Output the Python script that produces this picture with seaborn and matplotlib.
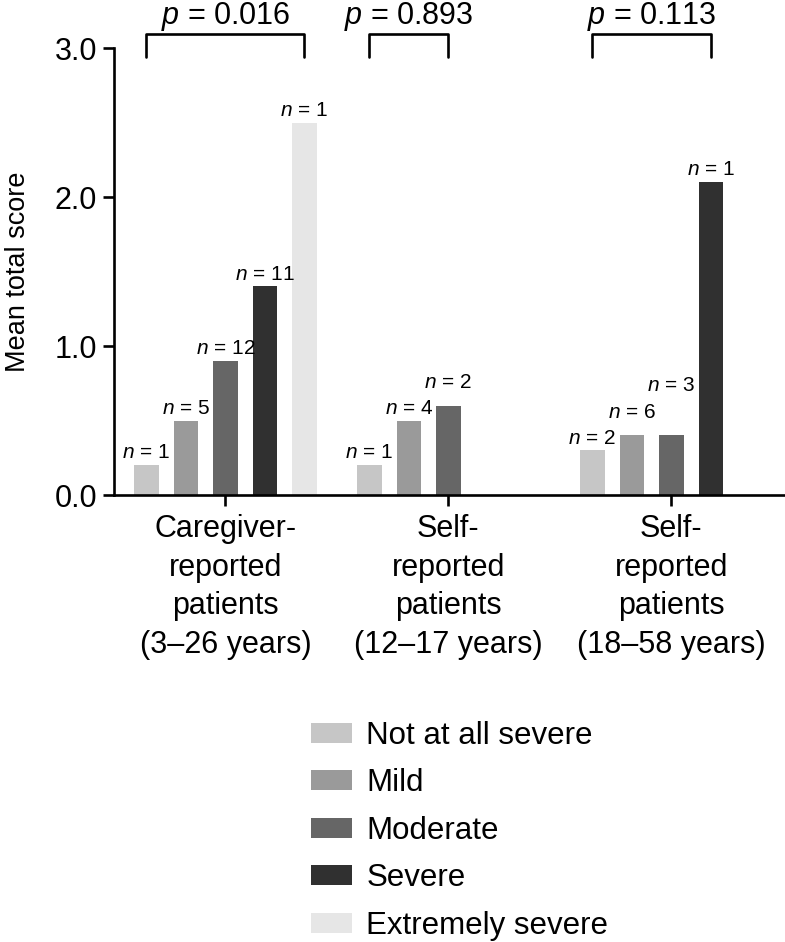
import pandas as pd
import matplotlib
matplotlib.use("Agg")
import matplotlib.pyplot as plt
import seaborn as sns

# dados
groups = ["Caregiver-\nreported\npatients\n(3\u201326 years)",
          "Self-\nreported\npatients\n(12\u201317 years)",
          "Self-\nreported\npatients\n(18\u201358 years)"]
severity = ["Not at all severe", "Mild", "Moderate", "Severe", "Extremely severe"]
colors = ["#c6c6c6", "#9a9a9a", "#666666", "#303030", "#e6e6e6"]

caregiver_3_26 = [0.2, 0.5, 0.9, 1.4, 2.5]
self_12_17 = [0.2, 0.5, 0.6, None, None]
self_18_58 = [0.3, 0.4, 0.4, 2.1, None]

n_caregiver_3_26 = [1, 5, 12, 11, 1]
n_self_12_17 = [1, 4, 2, None, None]
n_self_18_58 = [2, 6, 3, 1, None]

# distância extra (pt) de alguns rótulos n, para não se sobreporem
pad_caregiver_3_26 = [2, 2, 2, 2, 2]
pad_self_12_17 = [2, 2, 10, None, None]
pad_self_18_58 = [2, 10, 29, 2, None]

p_values = ["0.016", "0.893", "0.113"]
# barra inicial e final de cada colchete (índice de severidade)
bracket_from = [0, 0, 0]
bracket_to = [4, 2, 3]

rows = []
for g, vals, ns, pads in zip(groups, [caregiver_3_26, self_12_17, self_18_58],
                             [n_caregiver_3_26, n_self_12_17, n_self_18_58],
                             [pad_caregiver_3_26, pad_self_12_17, pad_self_18_58]):
    for s, v, n, pd_ in zip(severity, vals, ns, pads):
        if v is not None:
            rows.append({"group": g, "severity": s, "score": v, "n": n, "pad": pd_})
df = pd.DataFrame(rows)

sns.set_style("ticks")
plt.rcParams["font.family"] = ["Liberation Sans", "DejaVu Sans"]
plt.rcParams["text.color"] = "black"
plt.rcParams["axes.labelcolor"] = "black"
plt.rcParams["mathtext.fontset"] = "custom"
plt.rcParams["mathtext.it"] = "Liberation Sans:italic"
plt.rcParams["mathtext.rm"] = "Liberation Sans"

fig = plt.figure(figsize=(7.85, 9.42), dpi=100)
ax = fig.add_axes([0.1452, 0.4745, 0.8548, 0.4745])

sns.barplot(data=df, x="group", y="score", hue="severity", order=groups,
            hue_order=severity, palette=colors, width=0.886, gap=0.38,
            errorbar=None, linewidth=0, ax=ax, legend=True)

# rótulos n acima das barras
for container, s in zip(ax.containers, severity):
    sub = df[df["severity"] == s].set_index("group").reindex(groups).dropna()
    for bar, n, pad in zip(container, sub["n"], sub["pad"]):
        ax.annotate(f"$n$ = {int(n)}", (bar.get_x() + bar.get_width() / 2, bar.get_height()),
                    xytext=(0, pad), textcoords="offset points", ha="center",
                    va="bottom", fontsize=15)

ax.set_xlim(-0.5, 2.51)
ax.set_ylim(0, 3.0)
ax.set_yticks([0, 1, 2, 3])
ax.set_yticklabels(["0.0", "1.0", "2.0", "3.0"])
ax.set_xlabel("")
ax.set_ylabel("Mean total score", fontsize=19.5, color="black")
ax.yaxis.set_label_coords(-0.124, 0.5)

for lbl in ax.get_xticklabels():
    lbl.set_linespacing(1.37)
    lbl.set_multialignment("center")
ax.tick_params(axis="both", labelsize=22, length=8, width=1.9, color="black",
               labelcolor="black")
ax.tick_params(axis="x", pad=6)
ax.tick_params(axis="y", pad=4)
sns.despine(ax=ax)
for sp in ["left", "bottom"]:
    ax.spines[sp].set_linewidth(1.9)
    ax.spines[sp].set_color("black")

# colchetes com valores de p
slot = 0.886 / len(severity)
for i, p in enumerate(p_values):
    x0 = i + (bracket_from[i] - 2) * slot
    x1 = i + (bracket_to[i] - 2) * slot
    ax.plot([x0, x0, x1, x1], [2.94, 3.094, 3.094, 2.94], color="black",
            lw=1.9, clip_on=False)
    ax.text((x0 + x1) / 2, 3.161, f"$p$ = {p}", ha="center", va="baseline",
            fontsize=22, clip_on=False)

handles, labels = ax.get_legend_handles_labels()
ax.legend(handles, labels, loc="upper left", bbox_to_anchor=(0.396, 0.235),
          bbox_transform=fig.transFigure, frameon=False, fontsize=22.5,
          handlelength=1.31, handleheight=0.6, handletextpad=0.47,
          labelspacing=0.56, borderpad=0, borderaxespad=0)

fig.savefig("out.png", dpi=100)
